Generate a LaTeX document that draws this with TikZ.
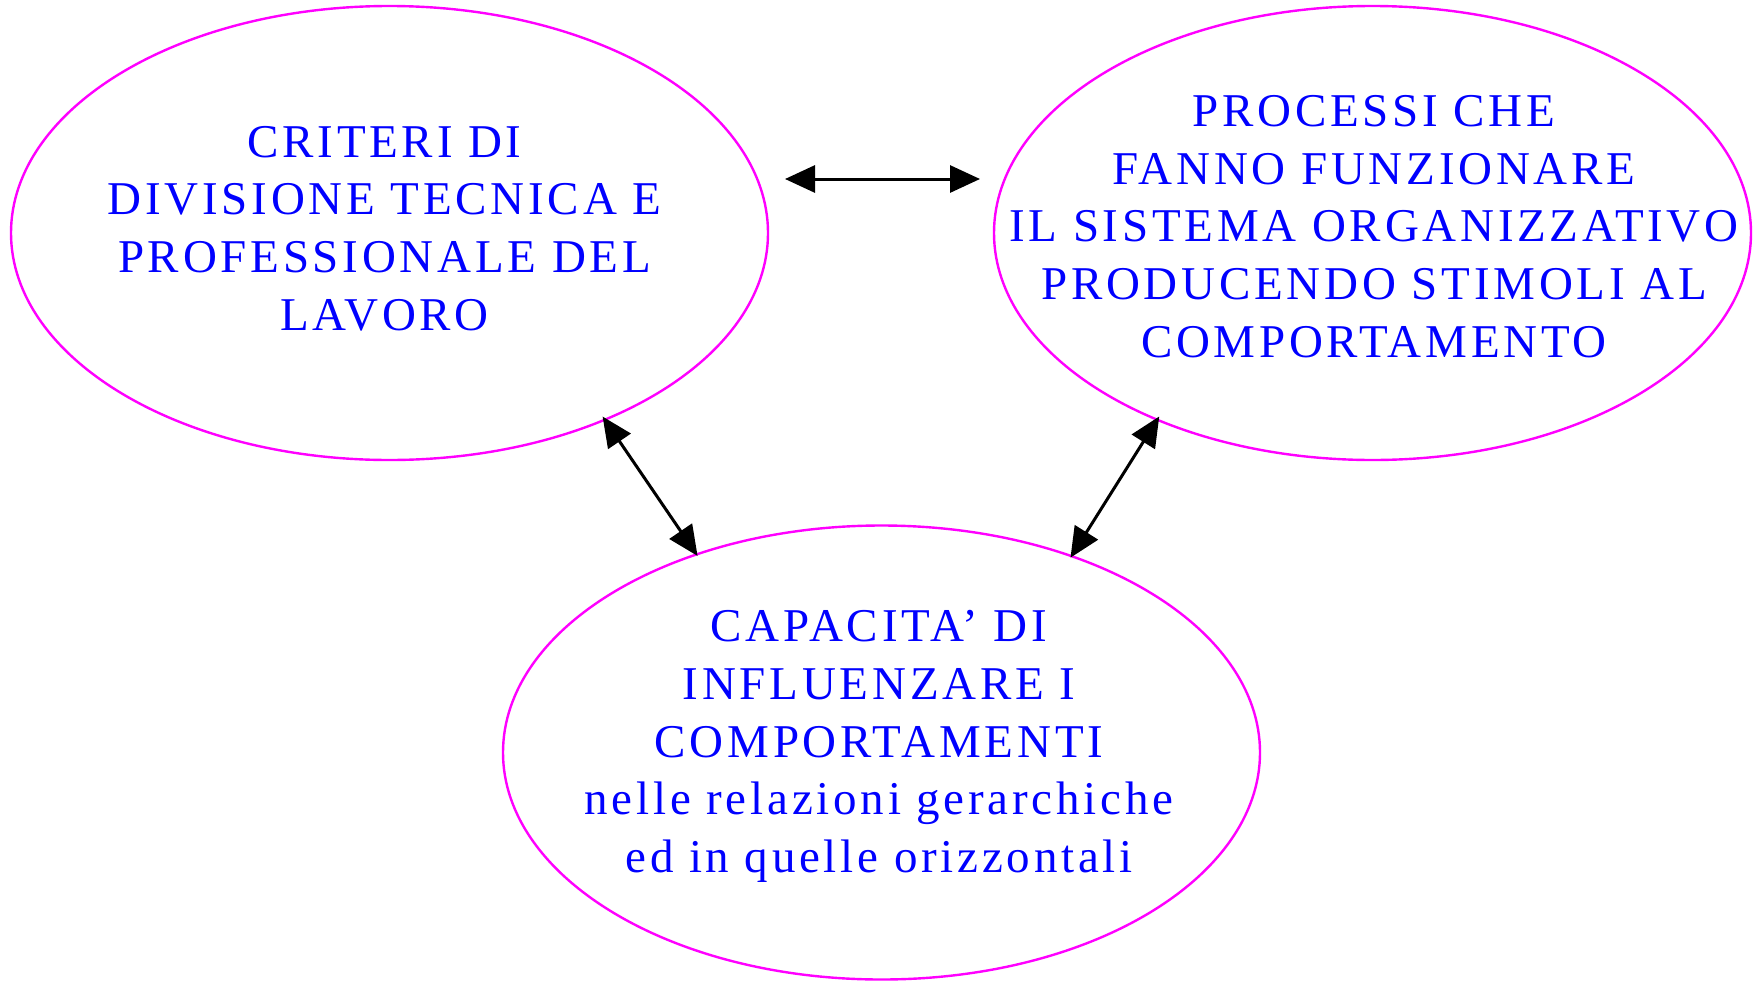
\documentclass[tikz,border=0pt]{standalone}
\usepackage{fontspec}
\setmainfont{Liberation Serif}[LetterSpace=8]
\usetikzlibrary{shapes.geometric,arrows.meta}
\definecolor{mag}{RGB}{255,0,255}
\definecolor{txtblue}{RGB}{0,0,255}
\begin{document}
\begin{tikzpicture}[x=1pt,y=-1pt,
  oval/.style={ellipse,draw=mag,line width=2.4pt,minimum width=757pt,minimum height=454pt,inner sep=0pt},
  lbl/.style={text=txtblue,align=center,font=\fontsize{47}{57.7}\selectfont,inner sep=0pt},
  link/.style={line width=3pt,{Triangle[length=30pt,width=27pt]}-{Triangle[length=30pt,width=27pt]}}]
\useasboundingbox (0,0) rectangle (1756,980);
\node[oval] (L) at (389.5,233) {};
\node[oval] (R) at (1372.5,233) {};
\node[oval] (B) at (881.5,752.5) {};
\node[lbl] (Lt) at (384.5,228.5) {CRITERI DI\\DIVISIONE TECNICA E\\PROFESSIONALE DEL\\LAVORO};
\node[lbl] (Rt) at (1374,226.5) {PROCESSI CHE\\FANNO FUNZIONARE\\IL SISTEMA ORGANIZZATIVO\\PRODUCENDO STIMOLI AL\\COMPORTAMENTO};
\node[lbl] (Bt) at (879,746.5) {CAPACITA’ DI\\INFLUENZARE I\\COMPORTAMENTI\\nelle relazioni gerarchiche\\ed in quelle orizzontali};
\coordinate (h1) at (785,179);
\coordinate (h2) at (980,179);
\draw[link] (h1) -- (h2);
\draw[link,shorten <=-5pt,shorten >=-3pt] (L.-41.8) -- (B.133.55);
\draw[link,shorten <=-5pt,shorten >=-3pt] (R.221.24) -- (B.46.9);
\end{tikzpicture}
\end{document}
